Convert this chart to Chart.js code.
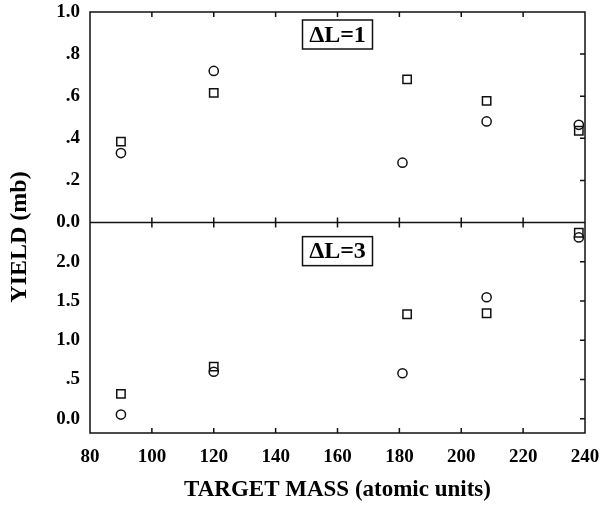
<!DOCTYPE html>
<html>
<head>
<meta charset="utf-8">
<script src="https://cdn.jsdelivr.net/npm/chart.js@4.4.1/dist/chart.umd.min.js"></script>
<style>
  html, body { margin: 0; padding: 0; background: #fff; }
  canvas { display: block; }
</style>
</head>
<body>
<canvas id="yieldChart" width="602" height="506"></canvas>
<script>
// values
const massTicks = [80, 100, 120, 140, 160, 180, 200, 220, 240];

const topTicks = [0, 0.2, 0.4, 0.6, 0.8, 1.0];
const topTickLabels = ['0.0', '.2', '.4', '.6', '.8', '1.0'];
const bottomTicks = [0, 0.5, 1.0, 1.5, 2.0];
const bottomTickLabels = ['0.0', '.5', '1.0', '1.5', '2.0'];

// dL = 1 panel
const dl1SquareMass = [90, 120, 182.5, 208.2, 238];
const dl1SquareYield = [0.384, 0.616, 0.68, 0.578, 0.436];
const dl1CircleMass = [90, 120, 181, 208.2, 238];
const dl1CircleYield = [0.33, 0.72, 0.284, 0.48, 0.464];

// dL = 3 panel
const dl3SquareMass = [90, 120, 182.5, 208.2, 238];
const dl3SquareYield = [0.318, 0.665, 1.332, 1.345, 2.37];
const dl3CircleMass = [90, 120, 181, 208.2, 238];
const dl3CircleYield = [0.055, 0.60, 0.581, 1.548, 2.31];

const serif = '"Liberation Serif", "Times New Roman", serif';
const ink = '#111';

function toPoints(xs, ys) {
    return xs.map((x, i) => ({ x: x, y: ys[i] }));
}

function markerSet(label, xs, ys, axis, style) {
    return {
        label: label,
        data: toPoints(xs, ys),
        yAxisID: axis,
        showLine: false,
        pointStyle: style,
        pointRadius: style === 'rect' ? 5.9 : 4.6,
        pointBorderWidth: 1.5,
        pointBorderColor: ink,
        pointBackgroundColor: 'rgba(255,255,255,0)'
    };
}

// frame, inward ticks, panel labels and axis titles
const framePlugin = {
    id: 'framePlugin',
    afterDraw(chart) {
        const { ctx, chartArea: a, scales } = chart;
        const xs = scales.x, yT = scales.yTop, yB = scales.yBot;
        const mid = yT.bottom;

        ctx.save();
        ctx.strokeStyle = ink;
        ctx.lineWidth = 1.5;
        ctx.strokeRect(a.left, a.top, a.width, a.height);

        ctx.beginPath();
        ctx.moveTo(a.left, mid);
        ctx.lineTo(a.right, mid);

        massTicks.slice(1, -1).forEach(v => {
            const px = xs.getPixelForValue(v);
            ctx.moveTo(px, a.top); ctx.lineTo(px, a.top + 5);
            ctx.moveTo(px, mid - 5); ctx.lineTo(px, mid + 5);
            ctx.moveTo(px, a.bottom - 5); ctx.lineTo(px, a.bottom);
        });
        topTicks.slice(1, -1).forEach(v => {
            const py = yT.getPixelForValue(v);
            ctx.moveTo(a.right - 5, py); ctx.lineTo(a.right, py);
        });
        bottomTicks.forEach(v => {
            const py = yB.getPixelForValue(v);
            ctx.moveTo(a.right - 5, py); ctx.lineTo(a.right, py);
        });
        ctx.stroke();

        // panel labels
        const boxes = [
            { text: '\u0394L=1', scale: yT, top: 0.962 },
            { text: '\u0394L=3', scale: yB, top: 2.32 }
        ];
        ctx.font = 'bold 24px ' + serif;
        ctx.fillStyle = '#000';
        ctx.textAlign = 'center';
        ctx.textBaseline = 'middle';
        boxes.forEach(b => {
            const cx = xs.getPixelForValue(160);
            const top = b.scale.getPixelForValue(b.top);
            ctx.lineWidth = 1.5;
            ctx.strokeRect(cx - 35, top, 70, 29);
            ctx.fillText(b.text, cx, top + 15.5);
        });

        // axis titles
        ctx.font = 'bold 23px ' + serif;
        ctx.fillText('TARGET MASS (atomic units)', (a.left + a.right) / 2, 490);

        ctx.translate(20, 237);
        ctx.rotate(-Math.PI / 2);
        ctx.font = 'bold 24px ' + serif;
        ctx.fillText('YIELD (mb)', 0, 0);
        ctx.restore();
    }
};

const tickFont = { family: serif, size: 19, weight: 'bold' };

function noPad(scale) {
    scale.paddingTop = 0;
    scale.paddingBottom = 0;
    scale.paddingLeft = 0;
    scale.paddingRight = 0;
}

new Chart(document.getElementById('yieldChart').getContext('2d'), {
    type: 'scatter',
    data: {
        datasets: [
            markerSet('dL=1 squares', dl1SquareMass, dl1SquareYield, 'yTop', 'rect'),
            markerSet('dL=1 circles', dl1CircleMass, dl1CircleYield, 'yTop', 'circle'),
            markerSet('dL=3 squares', dl3SquareMass, dl3SquareYield, 'yBot', 'rect'),
            markerSet('dL=3 circles', dl3CircleMass, dl3CircleYield, 'yBot', 'circle')
        ]
    },
    options: {
        responsive: false,
        animation: false,
        layout: { padding: { top: 12, right: 17, left: 0, bottom: 0 } },
        plugins: {
            legend: { display: false },
            tooltip: { enabled: false }
        },
        scales: {
            x: {
                type: 'linear',
                min: 80,
                max: 240,
                grid: { display: false, drawTicks: false },
                border: { display: false },
                afterBuildTicks: scale => { scale.ticks = massTicks.map(v => ({ value: v })); },
                afterFit: scale => { scale.height = 73; noPad(scale); },
                ticks: {
                    font: tickFont,
                    color: '#000',
                    padding: 13,
                    maxRotation: 0,
                    autoSkip: false,
                    callback: v => String(v)
                }
            },
            yBot: {
                type: 'linear',
                position: 'left',
                stack: 'panels',
                stackWeight: 1,
                offset: false,
                min: -0.18,
                max: 2.5,
                grid: { display: false, drawTicks: false },
                border: { display: false },
                afterBuildTicks: scale => { scale.ticks = bottomTicks.map(v => ({ value: v })); },
                afterFit: scale => { scale.width = 90; noPad(scale); },
                ticks: {
                    font: tickFont,
                    color: '#000',
                    padding: 10,
                    autoSkip: false,
                    callback: (v, i) => bottomTickLabels[i]
                }
            },
            yTop: {
                type: 'linear',
                position: 'left',
                stack: 'panels',
                stackWeight: 1,
                offset: false,
                min: 0,
                max: 1.0,
                grid: { display: false, drawTicks: false },
                border: { display: false },
                afterBuildTicks: scale => { scale.ticks = topTicks.map(v => ({ value: v })); },
                afterFit: scale => { scale.width = 90; noPad(scale); },
                ticks: {
                    font: tickFont,
                    color: '#000',
                    padding: 10,
                    autoSkip: false,
                    callback: (v, i) => topTickLabels[i]
                }
            }
        }
    },
    plugins: [framePlugin]
});
</script>
</body>
</html>
